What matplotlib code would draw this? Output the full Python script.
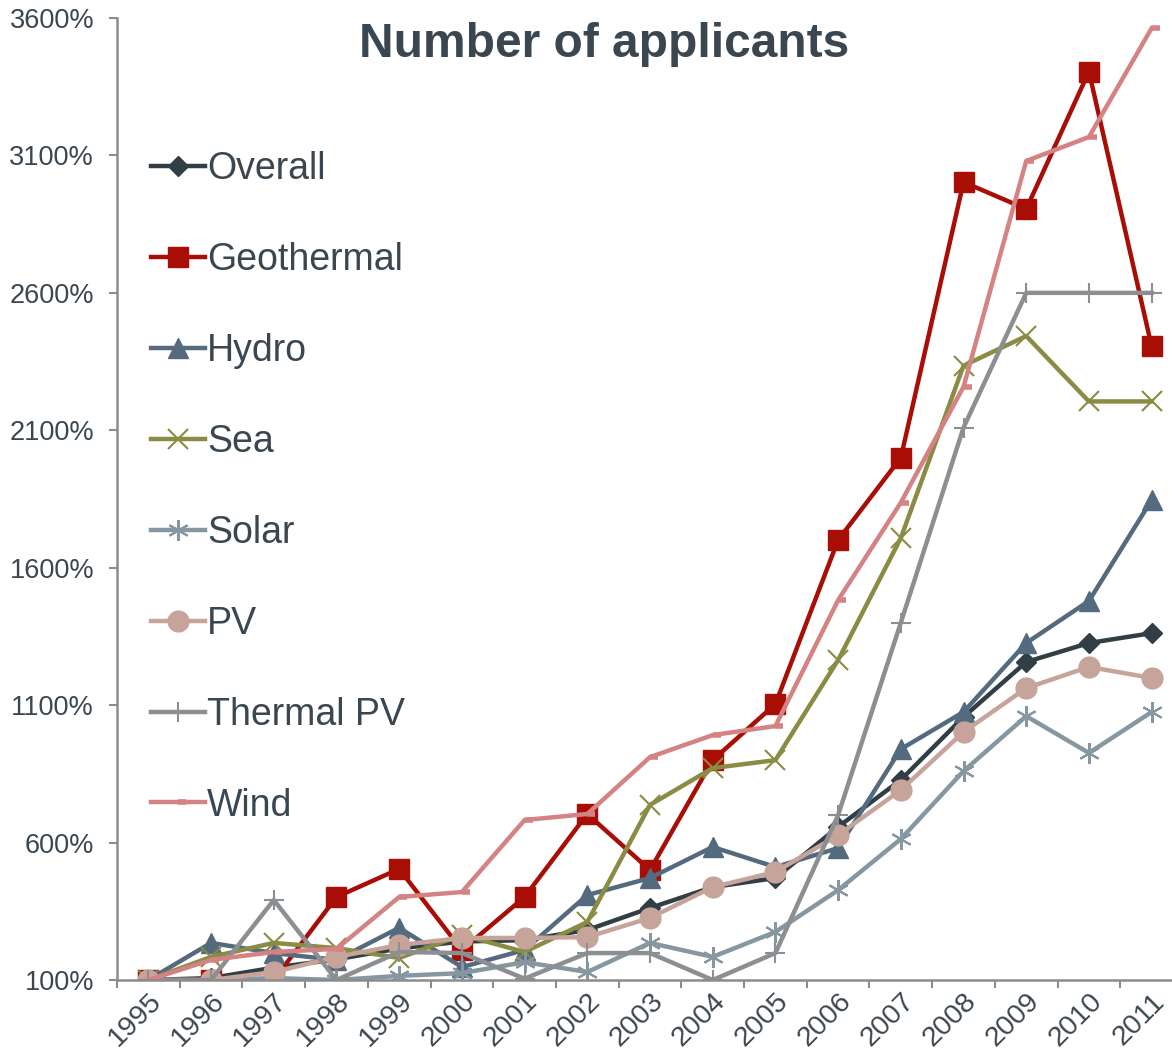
import matplotlib
matplotlib.use("Agg")
import matplotlib.pyplot as plt
from matplotlib.path import Path
from matplotlib.ticker import FixedLocator, FuncFormatter

# data (% relative to 1995)
years = [str(y) for y in range(1995, 2012)]
overall = [100, 107, 145, 175, 215, 240, 245, 282, 362, 438, 471, 657, 828, 1057, 1257, 1326, 1362]
geothermal = [100, 100, 100, 402, 504, 209, 402, 704, 500, 900, 1104, 1701, 2000, 3003, 2905, 3405, 2405]
hydro = [100, 235, 198, 173, 290, 147, 209, 409, 471, 584, 511, 580, 940, 1075, 1326, 1479, 1846]
sea = [100, 184, 235, 216, 180, 264, 202, 311, 737, 871, 900, 1264, 1708, 2335, 2443, 2205, 2205]
solar = [100, 100, 107, 100, 115, 125, 165, 129, 235, 184, 275, 427, 613, 860, 1060, 926, 1075]
pv = [100, 100, 129, 184, 227, 253, 253, 256, 326, 438, 493, 627, 791, 1002, 1162, 1239, 1199]
thermal_pv = [100, 100, 391, 100, 202, 198, 105, 198, 198, 100, 198, 700, 1400, 2110, 2600, 2600, 2600]
wind = [100, 173, 202, 213, 402, 420, 682, 704, 911, 991, 1024, 1482, 1837, 2258, 3080, 3167, 3563]

txt = "#3a4750"
plt.rcParams['font.family'] = ['Liberation Sans', 'DejaVu Sans']

fig = plt.figure(figsize=(11.72, 10.53), dpi=100)
ax = fig.add_axes([117/1172, 73/1053, 1066/1172, 962/1053])

# wind uses a short dash to the right of the point
dash = Path([(0, 0), (1, 0)], [Path.MOVETO, Path.LINETO])
x = list(range(len(years)))

ax.plot(x, overall, color="#323e46", lw=3.2, marker="D", ms=10, label="Overall")
ax.plot(x, geothermal, color="#a80d06", lw=3.2, marker="s", ms=14, label="Geothermal")
ax.plot(x, hydro, color="#546a7e", lw=3.2, marker="^", ms=15, label="Hydro")
ax.plot(x, sea, color="#8a8c44", lw=3.2, marker="x", ms=14, mew=1.5, label="Sea")
ax.plot(x, solar, color="#8797a2", lw=3.2, marker=(6, 2, 0), ms=15, mew=1.5, label="Solar")
ax.plot(x, pv, color="#c7a49a", lw=3.2, marker="o", ms=15, label="PV")
ax.plot(x, thermal_pv, color="#8c8f92", lw=3.2, marker="+", ms=15, mew=1.5, label="Thermal PV")
ax.plot(x, wind, color="#d48282", lw=3.2, marker=dash, ms=12, mew=4, label="Wind")

ax.set_xlim(-0.5, 16.5)
ax.set_ylim(100, 3600)
ax.set_yticks(range(100, 3601, 500))
ax.yaxis.set_major_formatter(FuncFormatter(lambda v, p: "%d%%" % v))
ax.set_xticks(x)
ax.set_xticklabels(years, rotation=45, ha="right", va="top", rotation_mode="anchor")
ax.xaxis.set_minor_locator(FixedLocator([i + 0.5 for i in range(-1, 17)]))
ax.tick_params(axis="x", which="major", length=0, pad=6, labelsize=20.5, labelcolor=txt)
ax.tick_params(axis="x", which="minor", length=5.5, width=1.5, color="#8c8c8c")
ax.tick_params(axis="y", length=5.5, width=1.5, color="#8c8c8c", labelsize=19.5, labelcolor=txt, pad=11)

for s in ["top", "right"]:
    ax.spines[s].set_visible(False)
for s in ["left", "bottom"]:
    ax.spines[s].set_color("#8c8c8c")
    ax.spines[s].set_linewidth(1.8)

ax.text(0.457, 0.996, "Number of applicants", transform=ax.transAxes, ha="center", va="top",
        fontsize=34.5, fontweight="bold", color=txt)

leg = ax.legend(loc="upper left", bbox_to_anchor=(136/1172, 1 - 136/1053), bbox_transform=fig.transFigure,
                frameon=False, fontsize=27, handlelength=1.45, handletextpad=0.05, labelspacing=1.465,
                borderaxespad=0)
for t in leg.get_texts():
    t.set_color(txt)

fig.savefig("out.png", dpi=100)
